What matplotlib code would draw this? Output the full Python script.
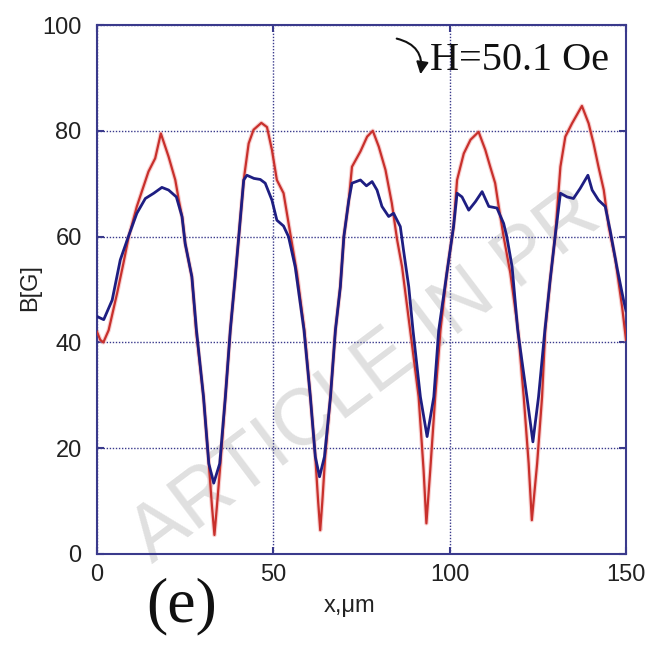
import matplotlib
matplotlib.use("Agg")
import matplotlib.pyplot as plt

# red profile
x_red = [0, 0.9, 1.8, 3.3, 5.7, 7.5, 9.0, 11.3, 14.6, 16.5, 18.1, 20.3, 22.2, 23.2, 24.2,
         25.0, 26.9, 28.1, 30.2, 31.7, 32.6, 33.3, 34.0, 35.0, 36.4, 37.8, 39.2, 40.2,
         41.6, 43.0, 44.4, 46.6, 48.2, 49.6, 51.0, 52.9, 54.8, 56.7, 58.8, 60.5, 61.9,
         62.7, 63.3, 63.9, 64.7, 66.2, 67.6, 69.0, 70.0, 71.4, 72.3, 74.7, 76.6, 78.2,
         79.9, 81.8, 83.6, 85.1, 86.5, 88.8, 91.2, 92.6, 93.4, 94.5, 95.9, 97.4, 99.2,
         101.1, 102.1, 104.0, 105.9, 108.2, 110.1, 111.5, 112.9, 113.9, 115.3, 117.2,
         119.4, 121.0, 122.4, 123.3, 124.8, 126.2, 127.1, 128.5, 129.9, 131.4, 132.8,
         134.7, 137.5, 139.4, 140.8, 142.2, 143.7, 145.1, 147.0, 148.9, 150.0]
b_red = [42.0, 40.5, 40.0, 42.3, 49.3, 55.0, 60.0, 65.7, 72.3, 74.8, 79.5, 75.1, 70.7, 66.9, 63.5,
         58.7, 52.4, 42.3, 29.7, 17.1, 9.0, 3.6, 9.0, 17.1, 29.7, 42.3, 52.4, 60.0,
         70.7, 77.6, 80.2, 81.5, 80.7, 76.4, 70.7, 68.2, 60.6, 53.1, 42.3, 29.7, 18.4,
         10.0, 4.5, 10.0, 18.4, 29.7, 42.3, 50.5, 60.0, 66.9, 73.2, 76.1, 78.9, 80.0,
         77.0, 72.6, 66.3, 59.4, 54.3, 42.3, 29.7, 15.9, 5.8, 15.9, 29.7, 42.3, 53.1,
         61.9, 70.7, 75.7, 78.3, 79.8, 76.4, 73.2, 70.1, 65.7, 60.0, 53.1,
         42.3, 29.7, 17.1, 6.4, 17.1, 29.7, 42.3, 51.8, 60.0, 73.2, 78.9,
         81.4, 84.7, 81.4, 77.6, 73.2, 68.8, 61.9, 55.6, 46.7, 40.5]

# blue profile
x_blue = [0, 1.9, 4.3, 6.6, 9.0, 11.3, 13.7, 16.1, 18.4, 20.3, 22.5, 24.1, 25.0, 26.9, 28.2,
          30.2, 31.7, 33.1, 34.8, 36.4, 37.8, 39.2, 40.2, 41.6, 42.5, 44.5, 46.3, 47.7,
          49.6, 51.0, 52.9, 54.3, 56.2, 58.7, 60.5, 61.9, 63.1, 64.5, 66.2, 67.6, 69.0,
          70.0, 71.4, 72.3, 74.7, 76.4, 78.0, 79.4, 80.8, 82.7, 84.1, 86.0, 86.9, 88.4,
          89.6, 91.7, 93.6, 95.5, 96.9, 99.2, 101.1, 102.1, 103.5, 105.4, 107.3, 109.2,
          111.1, 113.4, 115.3, 116.2, 117.7, 119.3, 121.9, 123.6, 125.2, 127.0, 128.5,
          129.9, 131.4, 133.3, 135.1, 137.0, 139.2, 140.4, 142.2, 144.1, 145.5, 147.4,
          149.3, 150.0]
b_blue = [44.9, 44.3, 48.0, 55.6, 60.2, 64.4, 67.2, 68.2, 69.3, 68.8, 67.5, 63.8, 58.7, 52.4, 42.3,
          29.7, 17.1, 13.4, 17.1, 29.7, 42.3, 52.4, 60.0, 70.7, 71.6, 71.0, 70.8, 70.1,
          66.9, 63.1, 62.0, 60.0, 54.3, 42.3, 29.7, 18.4, 14.6, 18.4, 29.7, 42.3, 50.5,
          60.0, 66.9, 70.1, 70.7, 69.6, 70.4, 68.8, 65.7, 63.8, 64.4, 61.9, 57.5, 50.5,
          42.3, 29.7, 22.2, 29.7, 42.3, 53.1, 61.9, 68.2, 67.5, 65.0, 66.6, 68.5,
          65.7, 65.4, 62.5, 60.0, 54.3, 42.3, 29.7, 21.2, 29.7, 42.3, 51.8,
          60.0, 68.2, 67.5, 67.2, 69.1, 71.6, 68.8, 66.9, 65.7, 61.2, 54.3,
          48.0, 46.0]

x_ticks = [0, 50, 100, 150]
y_ticks = [0, 20, 40, 60, 80, 100]

navy = "#3a3a8c"
sans = ["Liberation Sans", "DejaVu Sans"]
serif = ["Liberation Serif", "DejaVu Serif"]

fig = plt.figure(figsize=(6.49, 6.47), dpi=100)
ax = fig.add_axes([97 / 649, 1 - 554 / 647, 529 / 649, 529 / 647])

ax.plot(x_red, b_red, color="#f2a0a0", lw=3.2, alpha=0.5, zorder=2)
ax.plot(x_red, b_red, color="#c8302c", lw=1.6, zorder=3)
ax.plot(x_blue, b_blue, color="#1e1e82", lw=2.0, zorder=4)

ax.set_xlim(0, 150)
ax.set_ylim(0, 100)
ax.set_xticks(x_ticks)
ax.set_yticks(y_ticks)
ax.grid(True, color=navy, linestyle=(0, (1, 1.2)), lw=1.0)
for s in ax.spines.values():
    s.set_color(navy)
    s.set_linewidth(1.5)
ax.tick_params(direction="in", length=5, width=1.5, color=navy,
               top=True, right=True, labelsize=17, labelcolor="#222222")
ax.tick_params(axis="y", pad=11)
ax.tick_params(axis="x", pad=7)
for lab in ax.get_xticklabels() + ax.get_yticklabels():
    lab.set_family(sans)

fig.text(30 / 649, 1 - 288 / 647, "B[G]", rotation=90, ha="center", va="center",
         fontsize=17, family=sans, color="#222222")
fig.text(350 / 649, 1 - 606 / 647, "x,μm", ha="center", va="center",
         fontsize=17, family=sans, color="#222222")
fig.text(182 / 649, 1 - 606 / 647, "(e)", ha="center", va="center",
         fontsize=46, family=serif, color="#111111")

# field label with curved arrow
fig.text(430 / 649, 1 - 70 / 647, "H=50.1 Oe", ha="left", va="baseline",
         fontsize=29, family=serif, color="#111111")
ax.annotate("", xy=(420, 647 - 77), xytext=(394, 647 - 38),
            xycoords="figure pixels", textcoords="figure pixels",
            arrowprops=dict(arrowstyle="-|>", connectionstyle="arc3,rad=-0.5",
                            lw=1.5, color="#111111", mutation_scale=18))

# watermark from the source page (only the part that shows)
ax.text(152 / 649, 1 - 564 / 647, "ARTICLE IN PR", transform=fig.transFigure,
        rotation=37, rotation_mode="anchor", ha="left", va="baseline",
        fontsize=57, family=sans, color="#e0e0e0", clip_on=False, zorder=1)

fig.savefig("out.png", dpi=100)
